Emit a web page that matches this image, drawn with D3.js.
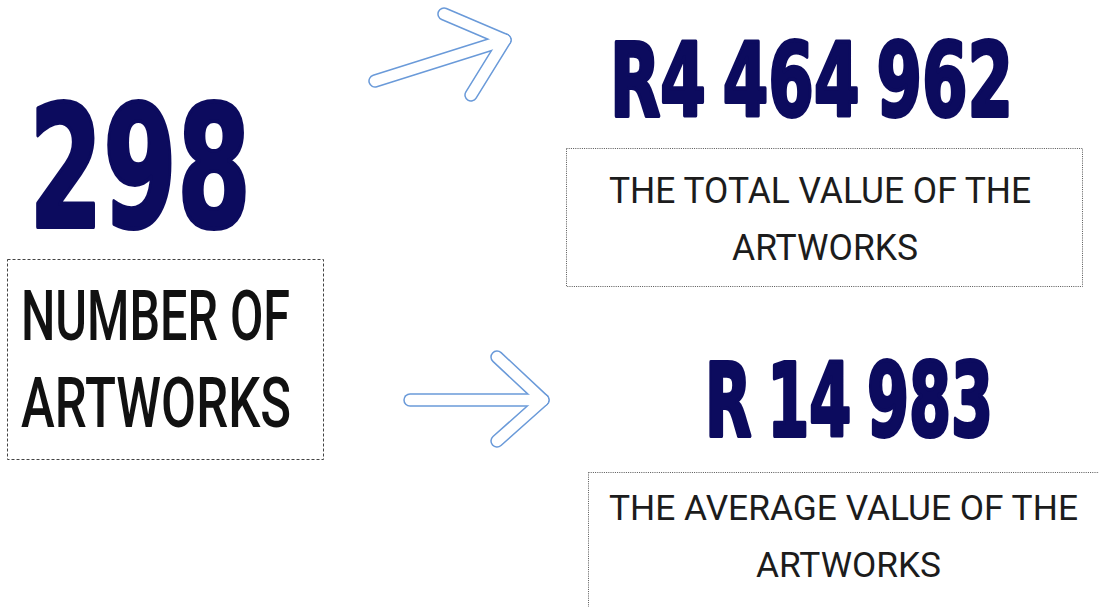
<!DOCTYPE html>
<html>
<head>
<meta charset="utf-8">
<script src="https://cdn.jsdelivr.net/npm/d3@7"></script>
<style>
  html, body { margin: 0; padding: 0; background: #fff; }
  svg { display: block; }
</style>
</head>
<body>
<svg id="chart" width="1099" height="607"></svg>
<script>
// figures shown on the sheet
const statValues = [298, 4464962, 14983];
const statPrefixes = ["", "R", "R "];
const statLabels = [
  ["NUMBER OF", "ARTWORKS"],
  ["THE TOTAL VALUE OF THE", "ARTWORKS"],
  ["THE AVERAGE VALUE OF THE", "ARTWORKS"]
];

const W = 1099, H = 607;
const navy = "#0c0b5e";
const arrowBlue = "#6a9ad9";

const svg = d3.select("#chart");
svg.append("rect").attr("width", W).attr("height", H).attr("fill", "#fff");

// numbers with spaces as thousand separators
const fmt = d3.format(",");
const numText = (v, i) => statPrefixes[i] + fmt(v).replace(/,/g, " ");

// layout for each block: big number box + label box
const layout = [
  { num: [27, 253, 102, 229],
    box: [7, 259, 316, 200], boxDash: "3,2", boxCol: "#444",
    lines: [[22, 289, 290, 340], [22, 290, 377, 427]], labelWeight: 500 },
  { num: [608, 1015, 40, 118],
    box: [566, 148, 516, 138], boxDash: "1,1.2", boxCol: "#555",
    lines: [[610, 1030, 177, 203], [733, 917, 234, 260]], labelWeight: 400 },
  { num: [703, 995, 360, 438],
    box: [588, 472, 540, 160], boxDash: "1,1.2", boxCol: "#555",
    lines: [[610, 1077, 495, 520], [757, 940, 552, 577]], labelWeight: 400 }
];

// fit a text element between x0..x1 with cap height from capTop to baseline
// (font size sets the height, a horizontal scale squeezes it to the width)
function fitText(sel, x0, x1, capTop, base, capRatio) {
  sel.attr("x", 0).attr("y", 0)
    .attr("font-size", (base - capTop) / capRatio);
  const w = sel.node().getComputedTextLength();
  const sx = (x1 - x0) / w;
  sel.attr("transform", `translate(${x0},${base}) scale(${sx},1)`);
}

statValues.forEach((v, i) => {
  const L = layout[i];
  const g = svg.append("g").attr("class", "stat");

  // big figure
  const n = L.num, sw = 4;
  g.append("text")
    .text(numText(v, i))
    .attr("font-family", "'DejaVu Sans', sans-serif")
    .attr("font-weight", "bold")
    .attr("word-spacing", i === 0 ? 0 : -9)
    .attr("fill", navy)
    .attr("stroke", navy)
    .attr("stroke-width", sw)
    .attr("stroke-linejoin", "round")
    .call(fitText, n[0] + sw / 2, n[1] - sw / 2, n[2] + sw / 2, n[3] - sw / 2, 0.729);

  // frame
  const b = L.box;
  g.append("rect")
    .attr("x", b[0] + 0.5).attr("y", b[1] + 0.5)
    .attr("width", b[2]).attr("height", b[3])
    .attr("fill", "none")
    .attr("stroke", L.boxCol)
    .attr("stroke-width", 1)
    .attr("stroke-dasharray", L.boxDash);

  // label lines
  statLabels[i].forEach((t, j) => {
    const l = L.lines[j];
    g.append("text")
      .text(t)
      .attr("font-family", "Roboto, sans-serif")
      .attr("font-weight", L.labelWeight)
      .attr("fill", i === 0 ? "#111" : "#1c1c1c")
      .call(fitText, l[0] - 1, l[1] + 1, l[2], l[3], 0.711);
  });
});

// outlined arrows: wide blue stroke, then a white one on top
const arrows = [
  { tail: [375, 81], tip: [505, 40], arms: [[444, 14], [471, 95]] },
  { tail: [410, 400], tip: [543, 400], arms: [[497, 357], [497, 441]] }
];
const line = d3.line();
arrows.forEach(a => {
  const paths = [
    [a.tail, a.tip],
    [a.arms[0], a.tip, a.arms[1]]
  ];
  const g = svg.append("g").attr("class", "arrow")
    .attr("fill", "none")
    .attr("stroke-linecap", "round")
    .attr("stroke-linejoin", "round");
  g.selectAll("path.outer").data(paths).join("path")
    .attr("class", "outer")
    .attr("d", line)
    .attr("stroke", arrowBlue)
    .attr("stroke-width", 13.5);
  g.selectAll("path.inner").data(paths).join("path")
    .attr("class", "inner")
    .attr("d", line)
    .attr("stroke", "#fff")
    .attr("stroke-width", 10.5);
});
</script>
</body>
</html>
